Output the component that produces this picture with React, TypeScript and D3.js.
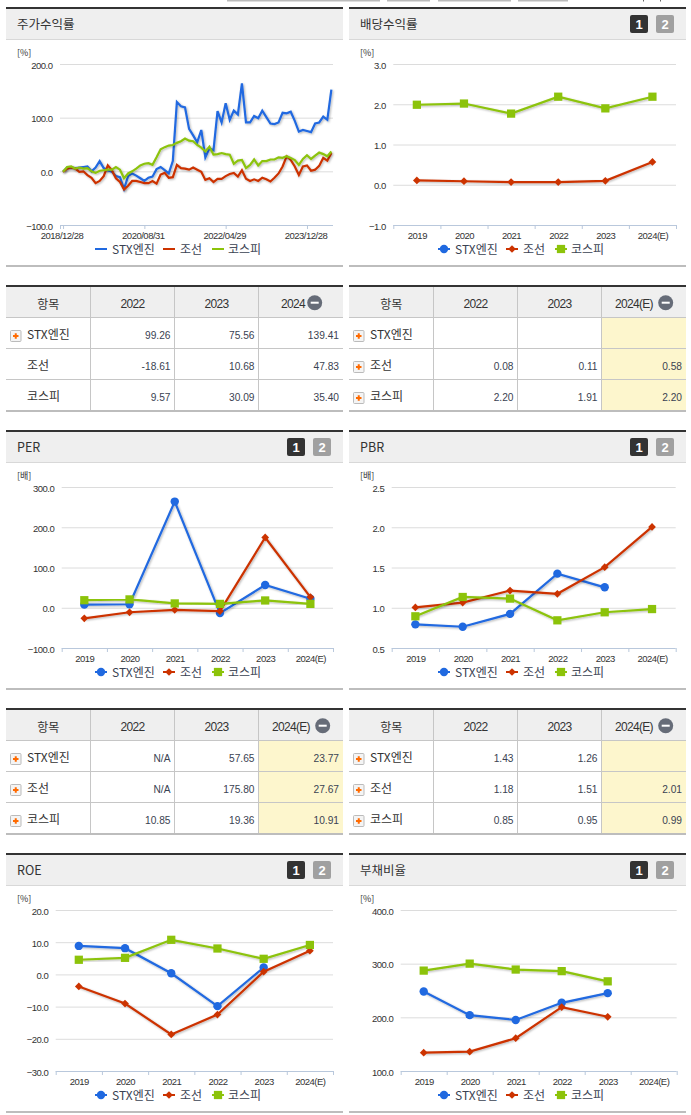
import React from 'react';
import * as d3 from 'd3';

const seriesNames = ['STX엔진', '조선', '코스피'];
const seriesColors = ['#2069e0', '#cc3300', '#8cc30a'];
const years = ['2019', '2020', '2021', '2022', '2023', '2024(E)'];

// monthly stock return
const returnDates = ['2018/12/28', '2020/08/31', '2022/04/29', '2023/12/28'];
const returnStx = [0, 8, 8, 7, 8, 9, 10, 1, 8, 20, 7, 3, 0, -8, -10, -32, -8, -3, -7, -12, -17, -11, -9, 5, 9, 3, -3, 20, 130, 122, 120, 80, 68, 55, 78, 27, 44, 40, 113, 92, 128, 97, 114, 107, 165, 92, 92, 104, 100, 114, 102, 90, 89, 92, 110, 109, 112, 95, 75, 78, 76, 74, 90, 92, 103, 97, 153];
const returnShip = [0, 6, 8, 6, 0, 1, -6, -11, -21, -17, -8, 12, 3, -12, -19, -33, -26, -17, -17, -19, -21, -21, -17, -22, -5, -2, -11, -10, 13, 7, 6, 4, 8, 4, 0, -15, -12, -19, -13, -13, -8, -4, -2, -9, 3, -13, -17, -14, -17, -11, -14, -18, -11, -3, 10, 29, 22, 10, -6, 10, 12, 2, 4, 11, 26, 21, 35];
const returnKospi = [0, 9, 10, 6, 8, 6, 7, 1, -2, 2, 3, 4, 4, 9, 4, -12, -3, 1, 6, 12, 15, 16, 13, 27, 42, 46, 49, 50, 54, 57, 62, 58, 57, 50, 45, 38, 47, 32, 33, 35, 33, 32, 15, 21, 22, 7, 13, 23, 12, 20, 20, 23, 23, 27, 26, 29, 26, 22, 13, 24, 31, 24, 30, 36, 33, 29, 38];

const dividendShip = [0.12, 0.1, 0.08, 0.08, 0.11, 0.58];
const dividendKospi = [2.0, 2.03, 1.78, 2.2, 1.91, 2.2];

const perStx = [9, 10, 265, -12, 57.65, 23.77];
const perShip = [-25, -10, -4, -7, 175.8, 27.67];
const perKospi = [20, 22, 12, 10.85, 19.36, 10.91];

const pbrStx = [0.8, 0.77, 0.93, 1.43, 1.26, null];
const pbrShip = [1.01, 1.07, 1.22, 1.18, 1.51, 2.01];
const pbrKospi = [0.9, 1.14, 1.12, 0.85, 0.95, 0.99];

const roeStx = [9, 8.3, 0.5, -9.7, 2.3, null];
const roeShip = [-3.6, -8.9, -18.5, -12.3, 1, 7.5];
const roeKospi = [4.7, 5.3, 10.9, 8.2, 5, 9.3];

const debtStx = [249, 205, 196, 228, 246, null];
const debtShip = [135, 137, 162, 220, 202, null];
const debtKospi = [288, 301, 290, 287, 268, null];

const returnTable = [['99.26', '75.56', '139.41'], ['-18.61', '10.68', '47.83'], ['9.57', '30.09', '35.40']];
const dividendTable = [['', '', ''], ['0.08', '0.11', '0.58'], ['2.20', '1.91', '2.20']];
const perTable = [['N/A', '57.65', '23.77'], ['N/A', '175.80', '27.67'], ['10.85', '19.36', '10.91']];
const pbrTable = [['1.43', '1.26', ''], ['1.18', '1.51', '2.01'], ['0.85', '0.95', '0.99']];

const KR = '"Noto Sans CJK KR", "Noto Sans", sans-serif';
const NUM = '"Liberation Sans", Arial, sans-serif';
const TEXT = '#333';

type Val = number | null;

const Header = ({ x, y, title, buttons }: { x: number; y: number; title: string; buttons: boolean }) => (
  <g>
    <rect x={x} y={y} width={337} height={2} fill="#333" />
    <rect x={x} y={y + 2} width={337} height={30} fill="#efefef" />
    <rect x={x} y={y + 32} width={337} height={1} fill="#d8d8d8" />
    <text x={x + 11} y={y + 22} fontFamily={KR} fontSize={12.5} fill={TEXT}>{title}</text>
    {buttons && (
      <g fontFamily={NUM} fontSize={13} fontWeight="bold" fill="#fff" textAnchor="middle">
        <rect x={x + 281} y={y + 8} width={18} height={18} rx={2} fill="#333" />
        <text x={x + 290} y={y + 22}>1</text>
        <rect x={x + 307} y={y + 8} width={18} height={18} rx={2} fill="#a0a0a0" />
        <text x={x + 316} y={y + 22}>2</text>
      </g>
    )}
  </g>
);

const Marker = ({ i, x, y }: { i: number; x: number; y: number }) => {
  if (i === 0) return <circle cx={x} cy={y} r={4.2} fill={seriesColors[0]} />;
  const size = i === 1 ? 30 : 68;
  const rotate = i === 1 ? ' rotate(45)' : '';
  return <path d={d3.symbol(d3.symbolSquare, size)() as string} transform={`translate(${x},${y})${rotate}`} fill={seriesColors[i]} />;
};

const Legend = ({ x, y, markers }: { x: number; y: number; markers: boolean }) => {
  const lineX = [0, 68, 117];
  const textX = [17, 85, 133];
  return (
    <g>
      {seriesNames.map((name, i) => (
        <g key={name}>
          <line x1={x + lineX[i]} x2={x + lineX[i] + 12} y1={y} y2={y} stroke={seriesColors[i]} strokeWidth={2} />
          {markers && <Marker i={i} x={x + lineX[i] + 6} y={y} />}
          <text x={x + textX[i]} y={y + 4.5} fontFamily={KR} fontSize={12} fill="#3a4252">{name}</text>
        </g>
      ))}
    </g>
  );
};

const Frame = ({ x, dy, left, right, unit, unitX, ticks, y, format }: {
  x: number; dy: number; left: number; right: number; unit: string; unitX: number;
  ticks: number[]; y: d3.ScaleLinear<number, number>; format: (v: number) => string;
}) => (
  <g>
    <text x={unitX} y={dy + 56} fontFamily={KR} fontSize={9} fill={TEXT}>{unit}</text>
    {ticks.map((t, i) => (
      <g key={t}>
        {i > 0 && <line x1={left} x2={right} y1={y(t)} y2={y(t)} stroke="#dcdcdc" />}
        <text x={left - 7.5} y={y(t) + 4} textAnchor="end" fontFamily={NUM} fontSize={9.5} letterSpacing={-0.5} fill={TEXT}>{format(t)}</text>
      </g>
    ))}
    <rect x={x} y={dy + 265} width={337} height={2} fill="#bdbdbd" />
  </g>
);

const AxisLine = ({ left, right, base, tickXs }: { left: number; right: number; base: number; tickXs: number[] }) => (
  <g stroke="#b9c8dc">
    <line x1={left} x2={right} y1={base + 0.5} y2={base + 0.5} />
    {tickXs.map(t => <line key={t} x1={t + 0.5} x2={t + 0.5} y1={base} y2={base + 4} />)}
  </g>
);

const ReturnChart = ({ x, dy }: { x: number; dy: number }) => {
  const left = 60;
  const right = 333;
  const ys = d3.scaleLinear().domain([-100, 200]).range([dy + 225.5, dy + 64.5]);
  const xs = d3.scaleLinear().domain([-0.75, 66.4]).range([left, right]);
  const line = d3.line<number>().x((_, i) => xs(i)).y(d => ys(d));
  const dateIdx = returnDates.map((_, i) => i * 20);
  return (
    <g>
      <Header x={x} y={dy + 7} title="주가수익률" buttons={false} />
      <Frame x={x} dy={dy} left={left} right={right} unit="[%]" unitX={x + 11} ticks={[-100, 0, 100, 200]} y={ys} format={d3.format('.1f')} />
      <AxisLine left={left} right={right} base={dy + 225} tickXs={[left, ...dateIdx.map(i => xs(i))]} />
      {returnDates.map((d, i) => (
        <text key={d} x={xs(dateIdx[i]) - 1} y={dy + 239} textAnchor="middle" fontFamily={NUM} fontSize={9.5} letterSpacing={-0.5} fill={TEXT}>{d}</text>
      ))}
      {[returnStx, returnShip, returnKospi].map((s, i) => (
        <path key={i} d={line(s) as string} fill="none" stroke={seriesColors[i]} strokeWidth={2.2} filter="url(#shade)" />
      ))}
      <Legend x={95} y={dy + 249} markers={false} />
    </g>
  );
};

const YearChart = ({ x, dy, title, left, right, unit, domain, ticks, digits, series, legendX }: {
  x: number; dy: number; title: string; left: number; right: number; unit: string;
  domain: [number, number]; ticks: number[]; digits: number; series: Val[][]; legendX: number;
}) => {
  const ys = d3.scaleLinear().domain(domain).range([dy + 225.5, dy + 64.5]);
  const xs = d3.scaleBand<string>().domain(years).range([left, right]);
  const cx = (i: number) => (xs(years[i]) as number) + xs.bandwidth() / 2;
  const line = d3.line<Val>().defined(d => d !== null).x((_, i) => cx(i)).y(d => ys(d as number));
  const edges = [...years.map(yr => xs(yr) as number), right];
  return (
    <g>
      <Header x={x} y={dy + 7} title={title} buttons />
      <Frame x={x} dy={dy} left={left} right={right} unit={unit} unitX={x + 11} ticks={ticks} y={ys} format={d3.format(`.${digits}f`)} />
      <AxisLine left={left} right={right} base={dy + 225} tickXs={edges} />
      {years.map((yr, i) => (
        <text key={yr} x={cx(i) + 0.5} y={dy + 239} textAnchor="middle" fontFamily={NUM} fontSize={9.5} letterSpacing={-0.5} fill={TEXT}>{yr}</text>
      ))}
      {series.map((s, i) => (
        <g key={i}>
          <path d={line(s) as string} fill="none" stroke={seriesColors[i]} strokeWidth={2.2} filter="url(#shade)" />
          {s.map((v, j) => (v === null ? null : <Marker key={j} i={i} x={cx(j)} y={ys(v)} />))}
        </g>
      ))}
      <Legend x={legendX} y={dy + 249} markers />
    </g>
  );
};

const PlusIcon = ({ x, y }: { x: number; y: number }) => (
  <g>
    <rect x={x + 0.5} y={y - 5} width={10.5} height={11} rx={1} fill="#f4f4f4" stroke="#bbb" />
    <path d={`M${x + 3} ${y + 0.5}h5.5M${x + 5.75} ${y - 2.25}v5.5`} stroke="#ff6a00" strokeWidth={2} />
  </g>
);

const DataTable = ({ x, dy, last, rows, plusRows, highlight, iconX, lastX }: {
  x: number; dy: number; last: string; rows: string[][]; plusRows: boolean[];
  highlight: boolean; iconX: number; lastX: number;
}) => {
  const top = dy + 285;
  const cols = [x, x + 84.5, x + 168.5, x + 252.5, x + 337];
  const rowYs = [top + 2, top + 32, top + 63, top + 94, top + 125];
  const grid = '#c6c6c6';
  return (
    <g>
      <rect x={x} y={rowYs[0]} width={337} height={30} fill="#efefef" />
      {highlight && <rect x={cols[3]} y={rowYs[1]} width={cols[4] - cols[3]} height={rowYs[4] - rowYs[1]} fill="#fdf6cd" />}
      <rect x={x} y={top} width={337} height={2} fill="#333" />
      {rowYs.slice(1, 4).map(ry => <line key={ry} x1={x} x2={x + 337} y1={ry + 0.5} y2={ry + 0.5} stroke={grid} />)}
      <rect x={x} y={rowYs[4]} width={337} height={2} fill="#bdbdbd" />
      {cols.slice(1, 4).map(cx => <line key={cx} x1={cx} x2={cx} y1={rowYs[0]} y2={rowYs[4]} stroke={grid} />)}
      <text x={(cols[0] + cols[1]) / 2} y={top + 23.5} fontFamily={KR} fontSize={12} fill={TEXT} textAnchor="middle">항목</text>
      <g fontFamily={NUM} fontSize={12} letterSpacing={-0.7} fill={TEXT} textAnchor="middle">
        <text x={(cols[1] + cols[2]) / 2} y={top + 23}>2022</text>
        <text x={(cols[2] + cols[3]) / 2} y={top + 23}>2023</text>
        <text x={lastX} y={top + 23}>{last}</text>
      </g>
      <circle cx={iconX} cy={top + 17.7} r={7.5} fill="#666c78" />
      <rect x={iconX - 4} y={top + 16.7} width={8} height={2} fill="#fff" />
      {rows.map((row, r) => {
        const center = (rowYs[r + 1] + rowYs[r + 2]) / 2;
        return (
          <g key={r}>
            {plusRows[r] && <PlusIcon x={x + 4} y={center + 3} />}
            <text x={x + 21} y={center + 6} fontFamily={KR} fontSize={12} fill={TEXT}>{seriesNames[r]}</text>
            {row.map((v, c) => (
              <text key={c} x={cols[c + 2] - 4} y={center + 6} textAnchor="end" fontFamily={NUM} fontSize={10.2} fill="#3a4252">{v}</text>
            ))}
          </g>
        );
      })}
    </g>
  );
};

const App: React.FC = () => (
  <svg width={691} height={1115} viewBox="0 0 691 1115" style={{ position: 'absolute', left: 0, top: 0, background: '#fff' }}>
    <defs>
      <filter id="shade" x="-5%" y="-5%" width="110%" height="115%">
        <feDropShadow dx={1} dy={1} stdDeviation={1} floodColor="#000" floodOpacity={0.3} />
      </filter>
    </defs>

    {/* cut-off tab strip above the first row */}
    <g fill="#bbb">
      <rect x={227} y={0} width={153} height={1.5} />
      <rect x={387} y={0} width={43} height={1.5} />
      <rect x={438} y={0} width={73} height={1.5} />
      <rect x={518} y={0} width={50} height={1.5} />
      <rect x={643} y={0} width={1} height={1.5} fill="#666" />
      <rect x={660} y={0} width={1} height={1.5} fill="#666" />
    </g>

    <ReturnChart x={6} dy={0} />
    <YearChart x={349} dy={0} title="배당수익률" left={393.3} right={676} unit="[%]" domain={[-1, 3]} ticks={[-1, 0, 1, 2, 3]} digits={1} series={[[null, null, null, null, null, null], dividendShip, dividendKospi]} legendX={438} />
    <DataTable x={6} dy={0} last="2024" rows={returnTable} plusRows={[true, false, false]} highlight={false} iconX={314.7} lastX={293} />
    <DataTable x={349} dy={0} last="2024(E)" rows={dividendTable} plusRows={[true, true, true]} highlight iconX={665.7} lastX={634} />

    <YearChart x={6} dy={423} title="PER" left={61.7} right={333} unit="[배]" domain={[-100, 300]} ticks={[-100, 0, 100, 200, 300]} digits={1} series={[perStx, perShip, perKospi]} legendX={95} />
    <YearChart x={349} dy={423} title="PBR" left={391.7} right={675.7} unit="[배]" domain={[0.5, 2.5]} ticks={[0.5, 1, 1.5, 2, 2.5]} digits={1} series={[pbrStx, pbrShip, pbrKospi]} legendX={438} />
    <DataTable x={6} dy={423} last="2024(E)" rows={perTable} plusRows={[true, true, true]} highlight iconX={322.7} lastX={291} />
    <DataTable x={349} dy={423} last="2024(E)" rows={pbrTable} plusRows={[true, true, true]} highlight iconX={665.7} lastX={634} />

    <YearChart x={6} dy={846} title="ROE" left={55.7} right={333} unit="[%]" domain={[-30, 20]} ticks={[-30, -20, -10, 0, 10, 20]} digits={1} series={[roeStx, roeShip, roeKospi]} legendX={95} />
    <YearChart x={349} dy={846} title="부채비율" left={400.7} right={676.7} unit="[%]" domain={[100, 400]} ticks={[100, 200, 300, 400]} digits={1} series={[debtStx, debtShip, debtKospi]} legendX={438} />
  </svg>
);

export default App;
